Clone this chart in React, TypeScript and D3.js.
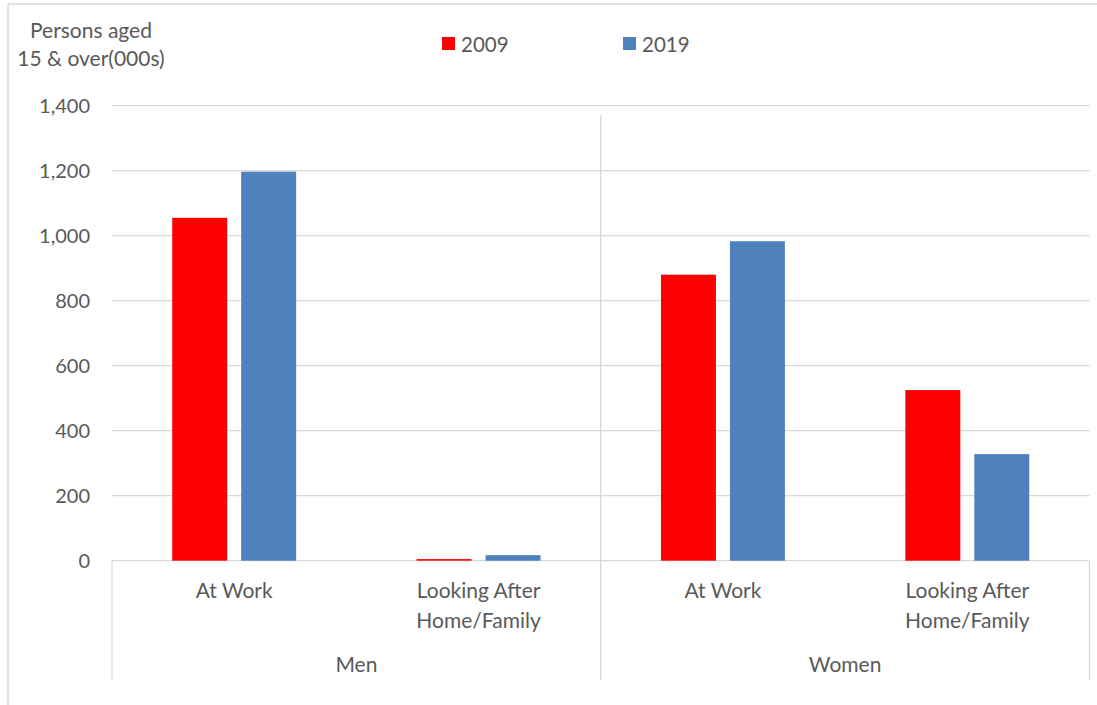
import React from "react";
import * as d3 from "d3";

const groups = ["Men", "Women"];
const categories = ["At Work", "Looking After\nHome/Family"];
const seriesNames = ["2009", "2019"];
const values2009 = [1055, 5, 880, 525];
const values2019 = [1197, 17, 983, 328];
const yTicks = [0, 200, 400, 600, 800, 1000, 1200, 1400];
const colors = ["#FF0000", "#4F81BD"];

const W = 1097;
const H = 705;
const left = 112;
const right = 1089.5;
const top = 105.7;
const bottom = 560.7;
const font = "Lato, 'Open Sans', sans-serif";
const textColor = "#595959";
const gridColor = "#D9D9D9";

export default function App() {
  const cells = groups.flatMap((g) => categories.map((c) => `${g}|${c}`));
  const x0 = d3.scaleBand<string>().domain(cells).range([left, right]).padding(0);
  const x1 = d3
    .scaleBand<string>()
    .domain(seriesNames)
    .range([0, x0.bandwidth()])
    .paddingInner(0.203)
    .paddingOuter(0.873);
  const y = d3.scaleLinear().domain([0, 1400]).range([bottom, top]);
  const gx = d3.scaleBand<string>().domain(groups).range([left, right]).padding(0);
  const series = [values2009, values2019];
  const fmt = d3.format(",");

  return (
    <svg
      width={W}
      height={H}
      style={{ position: "absolute", left: 0, top: 0, background: "#fff" }}
    >
      <rect x={0} y={0} width={W} height={H} fill="#fff" />
      {/* outer frame */}
      <line x1={8} x2={W} y1={4} y2={4} stroke={gridColor} strokeWidth={1.5} />
      <line x1={8} x2={8} y1={4} y2={H} stroke={gridColor} strokeWidth={1.5} />

      {/* y-axis title */}
      <text x={91} y={38} textAnchor="middle" fontFamily={font} fontSize={21} fill={textColor}>
        Persons aged
      </text>
      <text x={91} y={66} textAnchor="middle" fontFamily={font} fontSize={21} fill={textColor}>
        15 &amp; over(000s)
      </text>

      {/* legend */}
      {seriesNames.map((s, i) => {
        const lx = [442, 623][i];
        return (
          <g key={s}>
            <rect x={lx} y={37} width={13} height={13} fill={colors[i]} />
            <text x={lx + 19} y={52} fontFamily={font} fontSize={20.5} fill={textColor}>
              {s}
            </text>
          </g>
        );
      })}

      {/* gridlines and ticks */}
      {yTicks.map((t) => (
        <g key={t}>
          <line x1={left} x2={right} y1={y(t)} y2={y(t)} stroke={gridColor} strokeWidth={1.3} />
          <text
            x={90}
            y={y(t)}
            dy="0.35em"
            textAnchor="end"
            fontFamily={font}
            fontSize={20}
            fill={textColor}
          >
            {fmt(t)}
          </text>
        </g>
      ))}

      {/* group separators */}
      <line x1={left} x2={left} y1={bottom} y2={680} stroke={gridColor} strokeWidth={1.3} />
      <line
        x1={gx("Women")!}
        x2={gx("Women")!}
        y1={115}
        y2={680}
        stroke={gridColor}
        strokeWidth={1.3}
      />
      <line x1={right} x2={right} y1={bottom} y2={680} stroke={gridColor} strokeWidth={1.3} />

      {/* bars */}
      {cells.map((cell, ci) =>
        seriesNames.map((s, si) => {
          const v = series[si][ci];
          return (
            <rect
              key={cell + s}
              x={x0(cell)! + x1(s)!}
              y={y(v)}
              width={x1.bandwidth()}
              height={bottom - y(v)}
              fill={colors[si]}
            />
          );
        })
      )}

      {/* category labels */}
      {cells.map((cell) => {
        const lines = cell.split("|")[1].split("\n");
        const cx = x0(cell)! + x0.bandwidth() / 2;
        return (
          <text key={cell} textAnchor="middle" fontFamily={font} fontSize={21} fill={textColor}>
            {lines.map((ln, i) => (
              <tspan key={i} x={cx} y={598 + i * 30}>
                {ln}
              </tspan>
            ))}
          </text>
        );
      })}

      {/* group labels */}
      {groups.map((g) => (
        <text
          key={g}
          x={gx(g)! + gx.bandwidth() / 2}
          y={672}
          textAnchor="middle"
          fontFamily={font}
          fontSize={21}
          fill={textColor}
        >
          {g}
        </text>
      ))}
    </svg>
  );
}
